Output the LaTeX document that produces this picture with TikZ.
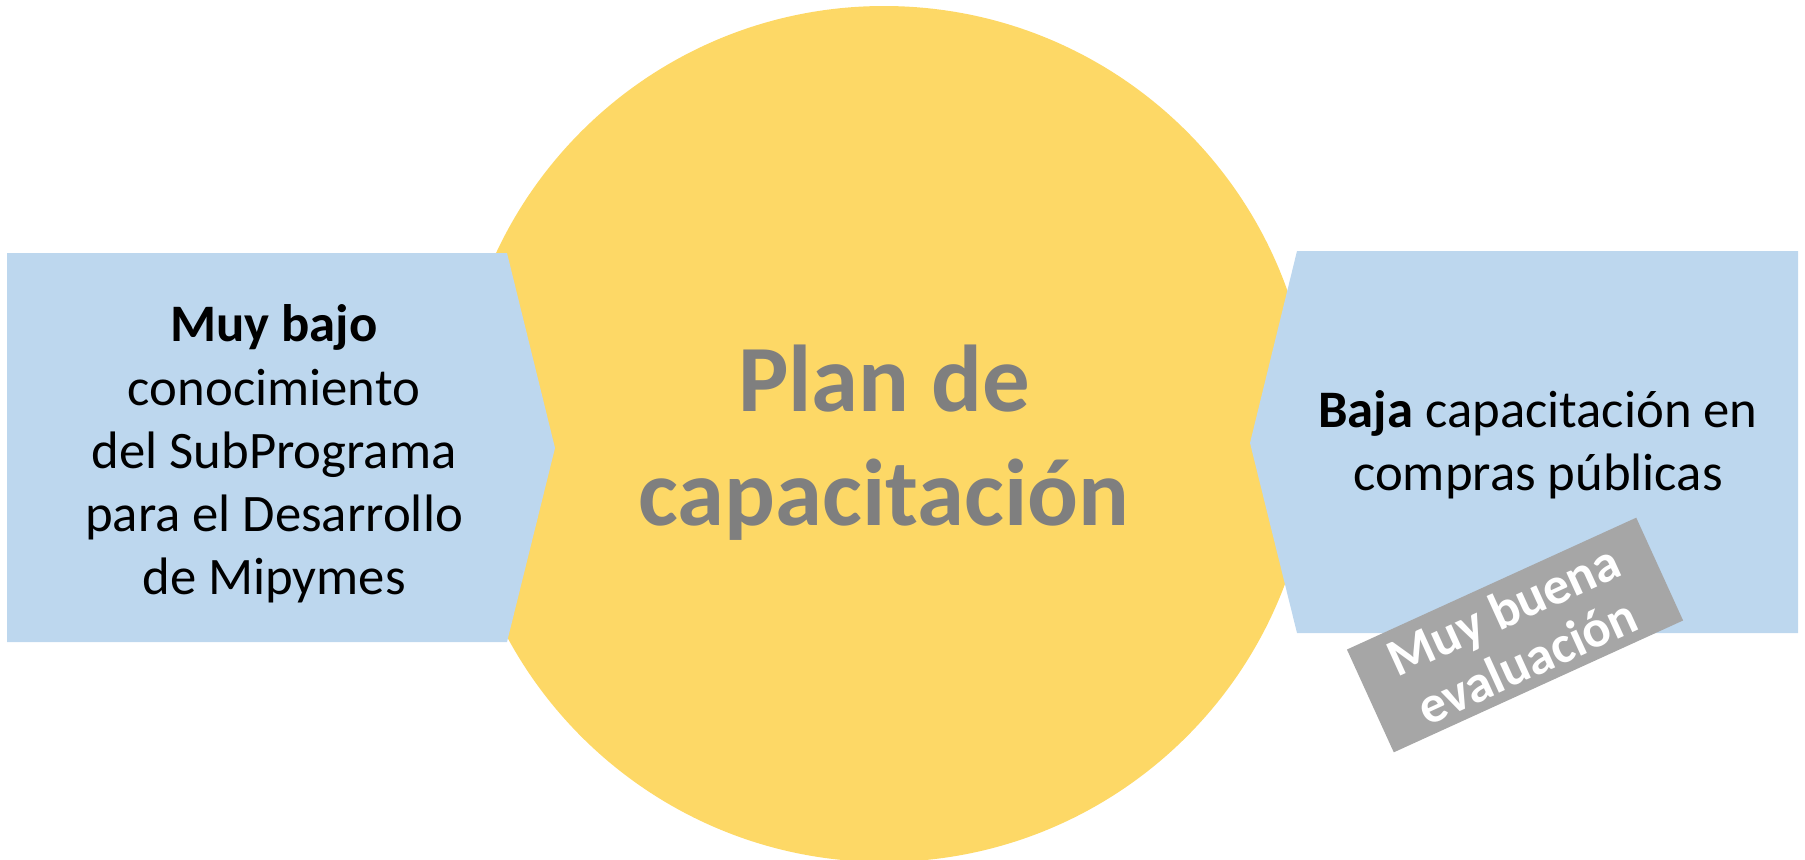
\documentclass[tikz,border=0pt]{standalone}
\usepackage{fontspec}
\setmainfont{Carlito}
\usetikzlibrary{positioning}
\definecolor{planyellow}{RGB}{253,216,102}
\definecolor{boxblue}{RGB}{189,215,238}
\definecolor{ratinggray}{RGB}{166,166,166}
\definecolor{titlegray}{RGB}{127,127,127}

\begin{document}
\begin{tikzpicture}[
    x=0.02cm, y=-0.02cm,
    sidelabel/.style={align=center, font=\fontsize{30}{36}\selectfont, text=black},
    planlabel/.style={align=center, font=\fontsize{54}{65}\selectfont\bfseries, text=titlegray},
    badge/.style={fill=ratinggray, rotate=24.5, minimum width=6.36cm, minimum height=2.26cm,
        align=center, font=\fontsize{30}{32}\selectfont\bfseries, text=white, inner sep=0pt}
]
\useasboundingbox (0,0) rectangle (1805,859);
\fill[planyellow] (884,434) circle[radius=428];
\fill[boxblue] (7,253) -- (507,253) -- (555,448) -- (507,642) -- (7,642) -- cycle;
\fill[boxblue] (1297,251) -- (1798,251) -- (1798,633) -- (1297,633) -- (1250,443) -- cycle;

\node[planlabel] (plan) at (884,443) {Plan de\\capacitación};
\node[sidelabel] (lowknow) at (274,454)
    {\textbf{Muy bajo}\\conocimiento\\del SubPrograma\\para el Desarrollo\\de Mipymes};
\node[sidelabel] (lowtrain) at (1538,445) {\textbf{Baja} capacitación en\\compras públicas};
\node[badge] (rating) at (1515,635) {Muy buena\\evaluación};
\end{tikzpicture}
\end{document}
